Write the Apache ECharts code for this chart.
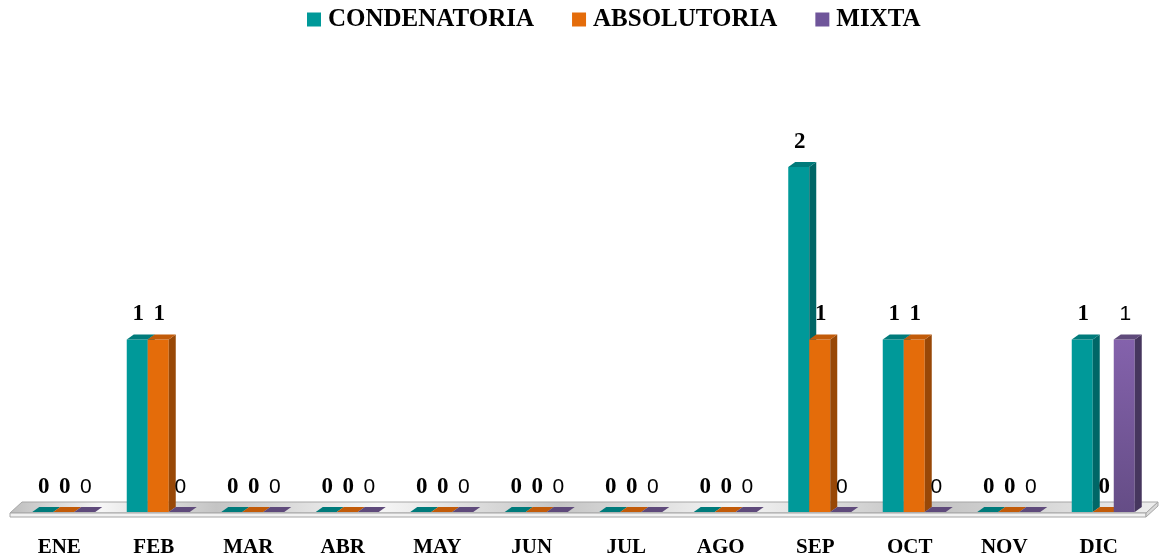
<!DOCTYPE html>
<html>
<head>
<meta charset="utf-8">
<script src="https://cdn.jsdelivr.net/npm/echarts/dist/echarts.min.js"></script>
<style>
  html, body { margin: 0; padding: 0; background: #fff; }
  #chart { width: 1161px; height: 559px; }
</style>
</head>
<body>
<div id="chart"></div>
<script>
// 数据
var months = ["ENE", "FEB", "MAR", "ABR", "MAY", "JUN", "JUL", "AGO", "SEP", "OCT", "NOV", "DIC"];
var seriesNames = ["CONDENATORIA", "ABSOLUTORIA", "MIXTA"];
var condenatoria = [0, 1, 0, 0, 0, 0, 0, 0, 2, 1, 0, 1];
var absolutoria = [0, 1, 0, 0, 0, 0, 0, 0, 1, 1, 0, 0];
var mixta = [0, 0, 0, 0, 0, 0, 0, 0, 0, 0, 0, 1];

// 颜色: front / side / top
var faces = [
  { front: "#009999", side: "#006767", top: "#007b7b" },
  { front: "#e46c0a", side: "#984807", top: "#c25b09" },
  {
    front: new echarts.graphic.LinearGradient(0, 0, 0, 1, [
      { offset: 0, color: "#8462ac" },
      { offset: 1, color: "#654d86" }
    ]),
    side: "#46365e",
    top: "#5f4a7b"
  }
];
var labelFonts = [
  { family: "Liberation Serif", weight: "bold", size: 23 },
  { family: "Liberation Serif", weight: "bold", size: 23 },
  { family: "Liberation Sans", weight: "normal", size: 21 }
];

var DX = 7, DY = 5;

// 3D 柱子
function makeRender(idx) {
  return function (params, api) {
    var cat = api.value(0);
    var val = api.value(1);
    var top = api.coord([cat, val]);
    var base = api.coord([cat, 0]);
    var catW = api.size([1, 0])[0];
    var barW = catW * 21 / 94.5;
    var left = top[0] - catW * 27 / 94.5 + idx * barW;
    var right = left + barW;
    var ty = top[1], by = base[1];
    var f = faces[idx];
    var children = [];
    if (by - ty > 0) {
      children.push({
        type: "rect",
        shape: { x: left, y: ty, width: barW, height: by - ty },
        style: { fill: f.front }
      });
      children.push({
        type: "polygon",
        shape: { points: [[right, ty], [right + DX, ty - DY], [right + DX, by - DY], [right, by]] },
        style: { fill: f.side }
      });
    }
    children.push({
      type: "polygon",
      shape: { points: [[left, ty], [left + DX, ty - DY], [right + DX, ty - DY], [right, ty]] },
      style: { fill: f.top }
    });
    children.push({
      type: "text",
      style: {
        text: String(val),
        x: left + barW / 2 + 1,
        y: ty - 25,
        align: "center",
        verticalAlign: "middle",
        fontFamily: labelFonts[idx].family,
        fontWeight: labelFonts[idx].weight,
        fontSize: labelFonts[idx].size,
        fill: "#000"
      }
    });
    return { type: "group", children: children };
  };
}

// 地板
function renderFloor(params, api) {
  var cs = params.coordSys;
  var x0 = cs.x - 2, x1 = cs.x + cs.width;
  var y0 = cs.y + cs.height + 1;
  return {
    type: "group",
    children: [
      {
        type: "polygon",
        shape: { points: [[x0, y0], [x0 + 12, y0 - 11], [x1 + 12, y0 - 11], [x1, y0]] },
        style: {
          fill: new echarts.graphic.LinearGradient(0, 0, 1, 0, [
            { offset: 0, color: "#bdbdbd" },
            { offset: 0.08, color: "#f6f6f6" },
            { offset: 0.18, color: "#c4c4c4" },
            { offset: 0.32, color: "#f6f6f6" },
            { offset: 0.48, color: "#c6c6c6" },
            { offset: 0.63, color: "#f4f4f4" },
            { offset: 0.8, color: "#c2c2c2" },
            { offset: 1, color: "#eeeeee" }
          ]),
          stroke: "#a6a6a6",
          lineWidth: 1
        }
      },
      {
        type: "polygon",
        shape: { points: [[x0, y0], [x1, y0], [x1, y0 + 4], [x0, y0 + 4]] },
        style: { fill: "#f2f2f2", stroke: "#a6a6a6", lineWidth: 1 }
      },
      {
        type: "polygon",
        shape: { points: [[x1, y0], [x1 + 12, y0 - 11], [x1 + 12, y0 - 7], [x1, y0 + 4]] },
        style: { fill: "#d9d9d9", stroke: "#a6a6a6", lineWidth: 1 }
      }
    ]
  };
}

var chart = echarts.init(document.getElementById("chart"));
var allData = [condenatoria, absolutoria, mixta];
var series = [{
  type: "custom",
  name: "floor",
  renderItem: renderFloor,
  data: [[0, 0]],
  silent: true,
  z: 1
}];
allData.forEach(function (arr, i) {
  series.push({
    type: "custom",
    name: seriesNames[i],
    renderItem: makeRender(i),
    data: arr.map(function (v, j) { return [j, v]; }),
    itemStyle: { color: i === 2 ? "#6f559a" : faces[i].front },
    z: 2 + i
  });
});

chart.setOption({
  animation: false,
  legend: {
    data: seriesNames,
    top: 2,
    left: 302,
    icon: "rect",
    itemWidth: 14,
    itemHeight: 14,
    itemGap: 38,
    textStyle: {
      fontFamily: "Liberation Serif",
      fontWeight: "bold",
      fontSize: 25,
      color: "#000",
      padding: [0, 0, 0, 2]
    }
  },
  grid: { left: 12, right: 15, top: 167, bottom: 47 },
  xAxis: {
    type: "category",
    data: months,
    offset: 5,
    axisLine: { lineStyle: { color: "#a6a6a6" } },
    axisTick: { length: 5, lineStyle: { color: "#a6a6a6" } },
    axisLabel: {
      margin: 20,
      fontFamily: "Liberation Serif",
      fontWeight: "bold",
      fontSize: 21,
      color: "#000"
    }
  },
  yAxis: { type: "value", min: 0, max: 2, show: false },
  series: series
});
</script>
</body>
</html>
